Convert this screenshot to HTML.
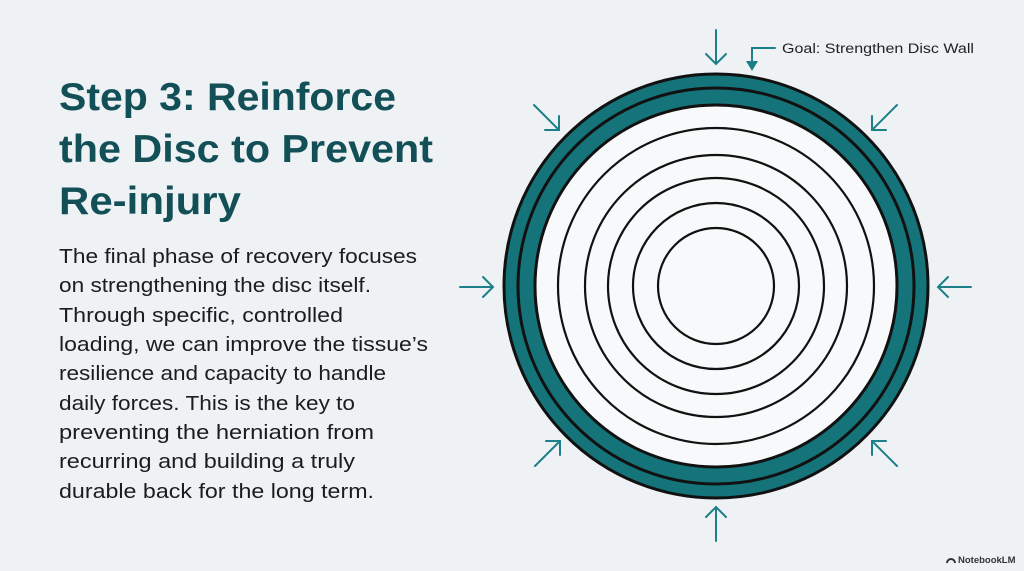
<!DOCTYPE html>
<html><head><meta charset="utf-8"><style>
html,body{margin:0;padding:0;background:#eef2f5;}
svg{display:block}
</style></head><body>
<svg width="1024" height="571" viewBox="0 0 1024 571" xmlns="http://www.w3.org/2000/svg">
<rect width="1024" height="571" fill="#eef2f5"/>
<g font-family="Liberation Sans, sans-serif" font-weight="bold" font-size="39" fill="#124f57">
<text x="59" y="110" textLength="337" lengthAdjust="spacingAndGlyphs">Step 3: Reinforce</text>
<text x="59" y="162" textLength="374" lengthAdjust="spacingAndGlyphs">the Disc to Prevent</text>
<text x="59" y="214" textLength="182" lengthAdjust="spacingAndGlyphs">Re-injury</text>
</g>
<g font-family="Liberation Sans, sans-serif" font-size="20" fill="#1c1c1c">
<text x="59" y="263" textLength="358" lengthAdjust="spacingAndGlyphs">The final phase of recovery focuses</text>
<text x="59" y="292" textLength="312" lengthAdjust="spacingAndGlyphs">on strengthening the disc itself.</text>
<text x="59" y="322" textLength="284" lengthAdjust="spacingAndGlyphs">Through specific, controlled</text>
<text x="59" y="351" textLength="369" lengthAdjust="spacingAndGlyphs">loading, we can improve the tissue’s</text>
<text x="59" y="380" textLength="327" lengthAdjust="spacingAndGlyphs">resilience and capacity to handle</text>
<text x="59" y="410" textLength="296" lengthAdjust="spacingAndGlyphs">daily forces. This is the key to</text>
<text x="59" y="439" textLength="315" lengthAdjust="spacingAndGlyphs">preventing the herniation from</text>
<text x="59" y="468" textLength="296" lengthAdjust="spacingAndGlyphs">recurring and building a truly</text>
<text x="59" y="498" textLength="315" lengthAdjust="spacingAndGlyphs">durable back for the long term.</text>
</g>
<g>
<circle cx="716" cy="286" r="212" fill="#15737a" stroke="#111" stroke-width="3"/>
<circle cx="716" cy="286" r="198" fill="none" stroke="#111" stroke-width="3"/>
<circle cx="716" cy="286" r="181" fill="#f7f9fa" stroke="#111" stroke-width="3"/>
<g fill="none" stroke="#111" stroke-width="2.2">
<circle cx="716" cy="286" r="158"/>
<circle cx="716" cy="286" r="131"/>
<circle cx="716" cy="286" r="108"/>
<circle cx="716" cy="286" r="83"/>
<circle cx="716" cy="286" r="58"/>
</g>
</g>
<g stroke="#1d7f87" stroke-width="2" fill="none" stroke-linecap="round">
<path d="M716 30 V64 M706 54 L716 64 L726 54"/>
<path d="M716 541 V507 M706 517 L716 507 L726 517"/>
<path d="M460 287 H493 M483 277 L493 287 L483 297"/>
<path d="M971 287 H938 M948 277 L938 287 L948 297"/>
<path d="M534 105 L559 130 M545 130 L559 130 L559 116"/>
<path d="M897 105 L872 130 M886 130 L872 130 L872 116"/>
<path d="M535 466 L560 441 M546 441 L560 441 L560 455"/>
<path d="M897 466 L872 441 M886 441 L872 441 L872 455"/>
<path d="M775 48 H752 V62"/>
</g>
<path d="M746 61 L758 61 L752 71 Z" fill="#1d7f87"/>
<text x="782" y="53" font-family="Liberation Sans, sans-serif" font-size="13.5" fill="#222" textLength="192" lengthAdjust="spacingAndGlyphs">Goal: Strengthen Disc Wall</text>
<g fill="#333"><path d="M946 563 a5 5 0 0 1 10 0 h-2 a3 3 0 0 0 -6 0z"/></g>
<text x="958" y="563" font-family="Liberation Sans, sans-serif" font-weight="bold" font-size="9.5" fill="#333">NotebookLM</text>
</svg>
</body></html>
